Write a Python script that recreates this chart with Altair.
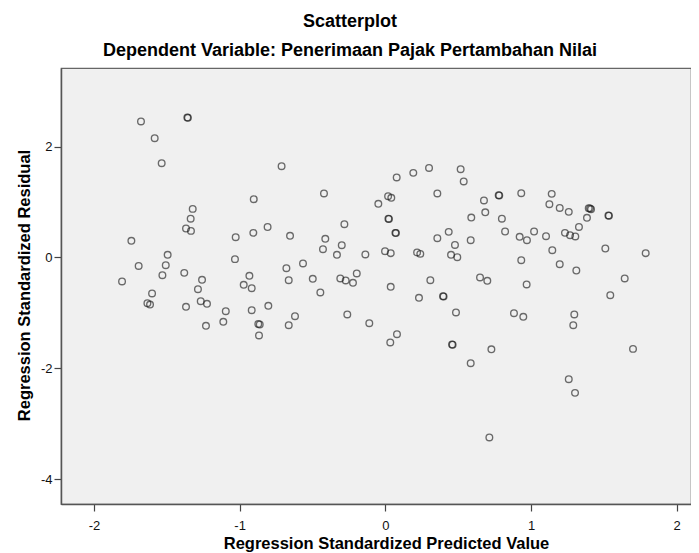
import altair as alt
import pandas as pd

# Regression Standardized Predicted Value (x) and Residual (y)
pred = [
    -1.677, -1.359, -1.355, -1.583, -1.535, -0.903, -1.322, -1.336, -0.712, -1.368,
    -1.334, -1.743, -1.027, -0.906, -0.808, -1.494, -1.693, -1.507, -1.530, -1.807,
    -1.380, -1.258, -1.286, -1.032, -0.933, -0.972, -0.917, -1.601, -1.633, -1.615,
    -1.267, -1.224, -1.368, -1.095, -1.112, -1.231, -0.917, -0.803, -0.872, -0.862,
    -0.867,
    -0.421, 0.078, 0.192, 0.300, 0.517, 0.538, 0.357, -0.048, 0.019, 0.041,
    0.021, 0.025, 0.677, 0.686, 0.590, -0.281, -0.654, -0.412, -0.428, -0.299,
    -0.332, -0.137, -0.002, 0.037, 0.069, 0.073, 0.218, 0.240, 0.357, 0.435,
    0.478, 0.451, 0.494, 0.586, 0.650, 0.700, -0.679, -0.565, -0.663, -0.498,
    -0.446, -0.309, -0.272, -0.222, -0.196, 0.037, 0.309, 0.231, 0.396, 0.400,
    0.485, -0.620, -0.663, -0.261, -0.110, 0.080, 0.034, 0.458, 0.462, 0.586,
    0.728, 0.714,
    0.778, 0.782, 0.933, 1.142, 1.126, 1.197, 1.259, 1.396, 1.412, 1.405,
    1.531, 1.535, 0.800, 1.384, 0.822, 0.922, 0.972, 1.021, 1.103, 1.329,
    1.233, 1.268, 1.304, 1.146, 1.510, 1.787, 0.933, 1.197, 1.311, 0.970,
    1.643, 1.544, 0.883, 0.947, 1.297, 1.290, 1.700, 1.259, 1.302,
]
resid = [
    2.455, 2.527, 2.520, 2.153, 1.702, 1.052, 0.877, 0.700, 1.648, 0.523,
    0.480, 0.300, 0.366, 0.444, 0.550, 0.047, -0.152, -0.139, -0.320, -0.433,
    -0.278, -0.404, -0.572, -0.030, -0.332, -0.494, -0.554, -0.650, -0.825, -0.850,
    -0.789, -0.837, -0.891, -0.969, -1.162, -1.234, -0.951, -0.873, -1.200, -1.210,
    -1.408,
    1.155, 1.444, 1.527, 1.617, 1.594, 1.372, 1.155, 0.968, 1.106, 1.076,
    0.700, 0.695, 1.029, 0.815, 0.720, 0.600, 0.390, 0.336, 0.150, 0.222,
    0.047, 0.054, 0.114, 0.078, 0.444, 0.440, 0.090, 0.065, 0.348, 0.462,
    0.227, 0.047, 0.005, 0.312, -0.361, -0.422, -0.193, -0.108, -0.410, -0.386,
    -0.632, -0.379, -0.415, -0.458, -0.289, -0.530, -0.410, -0.729, -0.699, -0.703,
    -0.993, -1.060, -1.222, -1.029, -1.186, -1.384, -1.534, -1.571, -1.575, -1.908,
    -1.658, -3.249,
    1.125, 1.120, 1.160, 1.148, 0.962, 0.895, 0.823, 0.890, 0.872, 0.885,
    0.758, 0.755, 0.700, 0.715, 0.469, 0.372, 0.312, 0.469, 0.384, 0.552,
    0.444, 0.403, 0.379, 0.132, 0.162, 0.078, -0.049, -0.121, -0.235, -0.487,
    -0.379, -0.680, -1.005, -1.072, -1.029, -1.222, -1.650, -2.197, -2.444,
]

x_ticks = [-2, -1, 0, 1, 2]
y_ticks = [-4, -2, 0, 2]

df = pd.DataFrame({"pred": pred, "resid": resid})

FONT = "Liberation Sans"

chart = (
    alt.Chart(df)
    .mark_point(shape="circle", filled=False, size=44, stroke="#1c1c1c",
                strokeWidth=1.35, strokeOpacity=0.9)
    .encode(
        x=alt.X(
            "pred:Q",
            scale=alt.Scale(domain=[-2.226, 2.098], nice=False, zero=False),
            axis=alt.Axis(
                values=x_ticks, title="Regression Standardized Predicted Value",
                labelExpr="'' + datum.value", grid=False,
                tickSize=7, labelPadding=8, labelFontSize=13, labelFont=FONT,
                labelColor="#111", titleFont=FONT, titleFontSize=16.5,
                titleFontWeight="bold", titleColor="#000",
                titleX=325, titleY=44, titleBaseline="alphabetic",
                domainColor="#555", domainWidth=1.5, tickColor="#444",
                tickWidth=1.2,
            ),
        ),
        y=alt.Y(
            "resid:Q",
            scale=alt.Scale(domain=[-4.45, 3.42], nice=False, zero=False),
            axis=alt.Axis(
                values=y_ticks, title="Regression Standardized Residual",
                labelExpr="'' + datum.value", grid=False,
                tickSize=7, labelPadding=2, labelFontSize=13, labelFont=FONT,
                labelColor="#111", titleFont=FONT, titleFontSize=16.5,
                titleFontWeight="bold", titleColor="#000",
                titleX=-37, titleY=217, titleBaseline="middle",
                domainColor="#555", domainWidth=1.5, tickColor="#444",
                tickWidth=1.2,
            ),
        ),
    )
    .properties(
        width=630,
        height=436,
        title=alt.Title(
            text="Scatterplot",
            subtitle="Dependent Variable: Penerimaan Pajak Pertambahan Nilai",
            font=FONT, subtitleFont=FONT, fontSize=18, subtitleFontSize=18,
            fontWeight="bold", subtitleFontWeight="bold",
            color="#000", subtitleColor="#000",
            anchor="middle", dx=-26, offset=8, subtitlePadding=11,
        ),
        padding={"left": 53, "top": 60, "right": 0, "bottom": 49},
        autosize=alt.AutoSizeParams(type="none"),
        background="white",
    )
    .configure_view(fill="#f0f0f0", stroke="#666", strokeWidth=1.2)
)

chart.save("out.html", embed_options={"renderer": "svg", "actions": False})
